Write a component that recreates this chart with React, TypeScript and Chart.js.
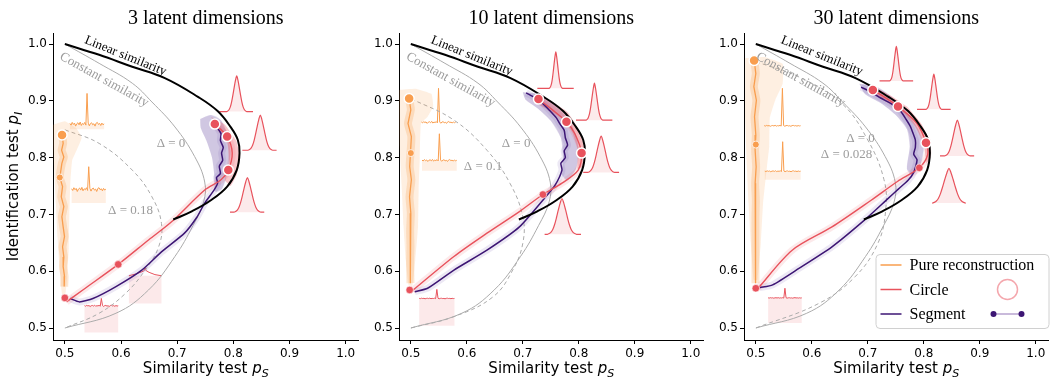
import React, { useEffect, useRef } from 'react';
import { Chart, registerables } from 'chart.js';
Chart.register(...registerables);

type P = [number, number];

// ---------- text ----------
const TITLES = ['3 latent dimensions', '10 latent dimensions', '30 latent dimensions'];
const X_LABEL = ['Similarity test ', 'p', 'S'];
const Y_LABEL = ['Identification test ', 'p', 'I'];
const LEGEND_LABELS = ['Pure reconstruction', 'Circle', 'Segment'];
const DELTA_LABELS = ['Δ = 0.18', 'Δ = 0.1', 'Δ = 0.028'];
const CURVE_LABELS = ['Linear similarity', 'Constant similarity', 'Δ = 0'];
const X_TICKS = [0.5, 0.6, 0.7, 0.8, 0.9, 1.0];
const Y_TICKS = [0.5, 0.6, 0.7, 0.8, 0.9, 1.0];

// ---------- shared reference curves ----------
const LINEAR_SIM: P[] = [[0.500, 1.000], [0.561, 0.981], [0.620, 0.960], [0.678, 0.940], [0.737, 0.907], [0.772, 0.882], [0.795, 0.854], [0.808, 0.831], [0.811, 0.808], [0.806, 0.778], [0.789, 0.749], [0.760, 0.725], [0.725, 0.705], [0.693, 0.691]];
const CONSTANT_SIM: P[] = [[0.500, 1.000], [0.561, 0.966], [0.620, 0.931], [0.655, 0.898], [0.696, 0.854], [0.731, 0.802], [0.749, 0.757], [0.747, 0.722], [0.728, 0.680], [0.696, 0.626], [0.649, 0.567], [0.591, 0.526], [0.500, 0.500]];

// ---------- 3 latent dimensions ----------
const DASHED_3: P[] = [[0.500, 0.849], [0.561, 0.825], [0.620, 0.778], [0.655, 0.731], [0.672, 0.684], [0.667, 0.643], [0.643, 0.602], [0.608, 0.561], [0.561, 0.526], [0.500, 0.500]];
const ORANGE_3: P[] = [[0.4953, 0.840], [0.497, 0.825], [0.4942, 0.813], [0.4982, 0.801], [0.4947, 0.790], [0.491, 0.765], [0.4959, 0.749], [0.4936, 0.731], [0.4982, 0.714], [0.4947, 0.696], [0.497, 0.678], [0.4994, 0.661], [0.4959, 0.643], [0.4982, 0.625], [0.497, 0.608], [0.4994, 0.591], [0.4988, 0.573]];
const CIRCLE_3: P[] = [[0.503, 0.546], [0.532, 0.567], [0.595, 0.612], [0.649, 0.655], [0.690, 0.687], [0.749, 0.743], [0.778, 0.761], [0.791, 0.778], [0.798, 0.808], [0.789, 0.837], [0.767, 0.859]];
const SEGMENT_3: P[] = [[0.509, 0.552], [0.526, 0.546], [0.550, 0.552], [0.591, 0.573], [0.637, 0.602], [0.672, 0.634], [0.713, 0.667], [0.735, 0.695], [0.749, 0.720], [0.765, 0.742], [0.772, 0.755], [0.770, 0.765], [0.777, 0.772], [0.775, 0.785], [0.781, 0.795], [0.779, 0.808], [0.782, 0.818], [0.777, 0.830], [0.778, 0.842], [0.772, 0.852], [0.768, 0.858], [0.760, 0.864]];
const ORANGE_MARKS_3: P[] = [[0.495, 0.840], [0.491, 0.765]];
const CIRCLE_MARKS_3: P[] = [[0.500, 0.553], [0.595, 0.612]];
const CIRCLE_RINGS_3: P[] = [[0.791, 0.778], [0.789, 0.837], [0.767, 0.859]];
const ORANGE_CLOUD_3: P[] = [[0.479, 0.858], [0.500, 0.864], [0.520, 0.852], [0.530, 0.835], [0.522, 0.815], [0.513, 0.795], [0.510, 0.760], [0.508, 0.700], [0.507, 0.640], [0.504, 0.590], [0.501, 0.560], [0.495, 0.560], [0.491, 0.600], [0.487, 0.660], [0.484, 0.720], [0.481, 0.780], [0.479, 0.820]];
const SEGMENT_CLOUD_3: P[] = [[0.741, 0.868], [0.760, 0.875], [0.778, 0.866], [0.790, 0.840], [0.795, 0.810], [0.790, 0.775], [0.780, 0.745], [0.768, 0.740], [0.766, 0.770], [0.762, 0.800], [0.752, 0.830], [0.742, 0.852]];
const CIRCLE_CLOUD_3: P[] = [[0.760, 0.872], [0.785, 0.858], [0.805, 0.830], [0.812, 0.800], [0.806, 0.770], [0.795, 0.750], [0.785, 0.760], [0.792, 0.790], [0.790, 0.825], [0.775, 0.850]];

// ---------- 10 latent dimensions ----------
const DASHED_10: P[] = [[0.500, 0.904], [0.577, 0.866], [0.636, 0.813], [0.677, 0.755], [0.700, 0.696], [0.700, 0.649], [0.682, 0.602], [0.647, 0.555], [0.577, 0.520], [0.500, 0.500]];
const ORANGE_10: P[] = [[0.497, 0.904], [0.500, 0.884], [0.495, 0.860], [0.501, 0.837], [0.4994, 0.808], [0.498, 0.784], [0.501, 0.761], [0.4977, 0.731], [0.500, 0.702], [0.4988, 0.672], [0.4994, 0.643], [0.4988, 0.614], [0.4994, 0.579]];
const CIRCLE_10: P[] = [[0.503, 0.566], [0.577, 0.626], [0.636, 0.667], [0.694, 0.705], [0.736, 0.735], [0.770, 0.755], [0.799, 0.778], [0.805, 0.808], [0.793, 0.842], [0.778, 0.863], [0.753, 0.884], [0.728, 0.903]];
const SEGMENT_10: P[] = [[0.507, 0.564], [0.530, 0.570], [0.577, 0.602], [0.636, 0.637], [0.694, 0.678], [0.741, 0.731], [0.758, 0.752], [0.770, 0.778], [0.768, 0.790], [0.776, 0.800], [0.774, 0.812], [0.780, 0.822], [0.776, 0.835], [0.774, 0.848], [0.766, 0.860], [0.760, 0.870], [0.747, 0.884], [0.735, 0.896], [0.723, 0.905], [0.706, 0.914]];
const ORANGE_MARKS_10: P[] = [[0.497, 0.904], [0.500, 0.808]];
const CIRCLE_MARKS_10: P[] = [[0.498, 0.567], [0.736, 0.735]];
const CIRCLE_RINGS_10: P[] = [[0.805, 0.808], [0.778, 0.863], [0.728, 0.903]];
const ORANGE_CLOUD_10: P[] = [[0.479, 0.919], [0.510, 0.921], [0.537, 0.912], [0.540, 0.890], [0.530, 0.872], [0.518, 0.860], [0.516, 0.800], [0.514, 0.743], [0.513, 0.680], [0.508, 0.620], [0.503, 0.575], [0.496, 0.575], [0.491, 0.620], [0.487, 0.680], [0.484, 0.743], [0.480, 0.820], [0.479, 0.880]];
const SEGMENT_CLOUD_10: P[] = [[0.700, 0.915], [0.725, 0.912], [0.755, 0.895], [0.780, 0.870], [0.795, 0.840], [0.800, 0.810], [0.795, 0.780], [0.780, 0.760], [0.770, 0.770], [0.772, 0.800], [0.768, 0.835], [0.750, 0.865], [0.725, 0.888], [0.705, 0.902]];
const CIRCLE_CLOUD_10: P[] = [[0.720, 0.912], [0.750, 0.900], [0.780, 0.880], [0.800, 0.850], [0.812, 0.815], [0.808, 0.785], [0.798, 0.780], [0.798, 0.815], [0.788, 0.845], [0.770, 0.868], [0.745, 0.885], [0.722, 0.897]];

// ---------- 30 latent dimensions ----------
const DASHED_30: P[] = [[0.500, 0.969], [0.577, 0.942], [0.653, 0.896], [0.700, 0.831], [0.729, 0.761], [0.732, 0.708], [0.718, 0.649], [0.677, 0.590], [0.612, 0.543], [0.500, 0.500]];
const ORANGE_30: P[] = [[0.497, 0.972], [0.500, 0.948], [0.4965, 0.925], [0.501, 0.901], [0.4977, 0.872], [0.500, 0.840], [0.4988, 0.813], [0.5006, 0.784], [0.4988, 0.755], [0.500, 0.725], [0.4994, 0.696], [0.4994, 0.661], [0.4994, 0.625], [0.4994, 0.579]];
const CIRCLE_30: P[] = [[0.504, 0.570], [0.565, 0.637], [0.636, 0.678], [0.706, 0.725], [0.753, 0.758], [0.792, 0.782], [0.807, 0.805], [0.804, 0.826], [0.788, 0.860], [0.754, 0.890], [0.729, 0.907], [0.709, 0.919]];
const SEGMENT_30: P[] = [[0.507, 0.571], [0.530, 0.576], [0.577, 0.605], [0.636, 0.643], [0.694, 0.690], [0.735, 0.727], [0.755, 0.745], [0.772, 0.760], [0.782, 0.774], [0.788, 0.796], [0.782, 0.806], [0.785, 0.818], [0.785, 0.831], [0.780, 0.845], [0.776, 0.855], [0.768, 0.868], [0.759, 0.881], [0.745, 0.893], [0.723, 0.905], [0.705, 0.916], [0.688, 0.924]];
const ORANGE_MARKS_30: P[] = [[0.497, 0.971], [0.500, 0.823]];
const CIRCLE_MARKS_30: P[] = [[0.500, 0.570], [0.792, 0.782]];
const CIRCLE_RINGS_30: P[] = [[0.804, 0.826], [0.754, 0.890], [0.709, 0.919]];
const ORANGE_CLOUD_30: P[] = [[0.481, 0.975], [0.515, 0.977], [0.548, 0.965], [0.548, 0.930], [0.535, 0.902], [0.525, 0.870], [0.524, 0.820], [0.520, 0.785], [0.513, 0.720], [0.509, 0.650], [0.503, 0.585], [0.496, 0.585], [0.491, 0.650], [0.487, 0.720], [0.484, 0.785], [0.481, 0.870], [0.481, 0.930]];
const SEGMENT_CLOUD_30: P[] = [[0.685, 0.930], [0.715, 0.925], [0.745, 0.905], [0.770, 0.880], [0.790, 0.850], [0.800, 0.820], [0.795, 0.790], [0.780, 0.770], [0.770, 0.780], [0.775, 0.820], [0.770, 0.850], [0.750, 0.875], [0.725, 0.895], [0.695, 0.912]];
const CIRCLE_CLOUD_30: P[] = [[0.705, 0.928], [0.740, 0.910], [0.770, 0.890], [0.795, 0.860], [0.810, 0.830], [0.812, 0.800], [0.805, 0.790], [0.800, 0.825], [0.785, 0.855], [0.765, 0.878], [0.740, 0.895], [0.710, 0.912]];

// ---------- inset shapes ----------
const GAUSS_PROFILE = [0, 0.02, 0.06, 0.14, 0.28, 0.47, 0.68, 0.87, 1, 0.87, 0.68, 0.47, 0.28, 0.14, 0.06, 0.02, 0];
const SPEC_NOISE = [0.2, -0.3, 0.5, -0.1, 0.3, -0.6, 0.1, 0.4, -0.2, 0.6, -0.4, 0.2, -0.1, 0.5, -0.3, 1, 0.3, -0.5, 0.2, 0.4, -0.2, 0.1, -0.6, 0.3, 0.5, -0.1, 0.2, -0.4, 0.3, -0.2, 0.1];
const TENT_PROFILE: P[] = [[0, 0], [0.2, 0.003], [0.4, 0.007], [0.47, 0.009], [0.5, 0.014], [0.53, 0.009], [0.62, 0.006], [0.8, 0.002], [1, 0]];

// inset placements: gaussian [xCenter, top, base, xLeft, xRight, halfWidth]
const GAUSS_3 = [[0.806, 0.944, 0.881, 0.775, 0.835, 0.018], [0.848, 0.875, 0.813, 0.816, 0.877, 0.022], [0.825, 0.765, 0.704, 0.794, 0.855, 0.024]];
const GAUSS_10 = [[0.759, 0.986, 0.922, 0.726, 0.791, 0.012], [0.828, 0.931, 0.866, 0.795, 0.860, 0.015], [0.840, 0.838, 0.774, 0.808, 0.872, 0.024], [0.770, 0.728, 0.665, 0.739, 0.804, 0.026]];
const GAUSS_30 = [[0.751, 0.996, 0.935, 0.721, 0.781, 0.012], [0.818, 0.947, 0.885, 0.788, 0.848, 0.014], [0.860, 0.866, 0.803, 0.829, 0.890, 0.023], [0.845, 0.781, 0.720, 0.815, 0.875, 0.030]];
// spectra [x0, x1, base, spikeTop, fillBottom (0 = none)]
const SPECTRA_3 = [[0.509, 0.570, 0.859, 0.913, 0.850], [0.512, 0.573, 0.744, 0.784, 0.720]];
const SPECTRA_10 = [[0.519, 0.580, 0.862, 0.922, 0], [0.520, 0.582, 0.795, 0.842, 0.777]];
const SPECTRA_30 = [[0.515, 0.580, 0.856, 0.922, 0], [0.516, 0.580, 0.776, 0.828, 0.761]];
const RED_SPECTRA_3 = [[0.535, 0.595, 0.539, 0.552, 0.492]];
const RED_SPECTRA_10 = [[0.515, 0.578, 0.552, 0.568, 0.504]];
const RED_SPECTRA_30 = [[0.522, 0.582, 0.553, 0.570, 0.509]];
const TENTS_3 = [[0.614, 0.672, 0.592, 0.543]];

// ---------- styles / layout ----------
const ORANGE = '#F99E4E';
const RED = '#E8525C';
const PURPLE = '#3D1674';
const GRAY = '#ABABAB';
const XMIN = 0.4789, XMAX = 1.0228, YMIN = 0.4789, YMAX = 1.0194;

const PANELS = [
  { i: 0, dashed: DASHED_3, orange: ORANGE_3, circle: CIRCLE_3, segment: SEGMENT_3, oMarks: ORANGE_MARKS_3, cMarks: CIRCLE_MARKS_3, cRings: CIRCLE_RINGS_3, oCloud: ORANGE_CLOUD_3, sCloud: SEGMENT_CLOUD_3, cCloud: CIRCLE_CLOUD_3, gauss: GAUSS_3, spectra: SPECTRA_3, red: RED_SPECTRA_3, tents: TENTS_3, amp: 0.006, redAmp: 0.002,
    left: 0, width: 365, yw: 53, pr: 2, lin: [0.608, 0.979], con: [0.570, 0.937], d0: [0.689, 0.824], dx: [0.617, 0.707] },
  { i: 1, dashed: DASHED_10, orange: ORANGE_10, circle: CIRCLE_10, segment: SEGMENT_10, oMarks: ORANGE_MARKS_10, cMarks: CIRCLE_MARKS_10, cRings: CIRCLE_RINGS_10, oCloud: ORANGE_CLOUD_10, sCloud: SEGMENT_CLOUD_10, cCloud: CIRCLE_CLOUD_10, gauss: GAUSS_10, spectra: SPECTRA_10, red: RED_SPECTRA_10, tents: [], amp: 0.003, redAmp: 0.001,
    left: 362, width: 348, yw: 37, pr: 1, lin: [0.609, 0.979], con: [0.571, 0.937], d0: [0.688, 0.824], dx: [0.629, 0.785] },
  { i: 2, dashed: DASHED_30, orange: ORANGE_30, circle: CIRCLE_30, segment: SEGMENT_30, oMarks: ORANGE_MARKS_30, cMarks: CIRCLE_MARKS_30, cRings: CIRCLE_RINGS_30, oCloud: ORANGE_CLOUD_30, sCloud: SEGMENT_CLOUD_30, cCloud: CIRCLE_CLOUD_30, gauss: GAUSS_30, spectra: SPECTRA_30, red: RED_SPECTRA_30, tents: [], amp: 0.0015, redAmp: 0.0008,
    left: 707, width: 348, yw: 37, pr: 1, lin: [0.618, 0.979], con: [0.580, 0.937], d0: [0.687, 0.834], dx: [0.662, 0.805] },
];

const pts = (a: P[]) => a.map(([x, y]) => ({ x, y }));
const closed = (a: P[]) => pts([...a, a[0]]);

function buildDatasets(p: any) {
  const ds: any[] = [];
  const add = (d: any) => ds.push({ showLine: true, pointRadius: 0, pointHoverRadius: 0, fill: false, tension: 0, ...d });
  const shape = (a: P[], color: string, tension = 0) => add({ data: closed(a), fill: 'shape', backgroundColor: color, borderColor: 'transparent', borderWidth: 0, tension });

  // insets
  p.gauss.forEach(([xc, top, base, xl, xr, w]: number[]) => {
    const n = GAUSS_PROFILE.length;
    const data = [{ x: xl, y: base }, ...GAUSS_PROFILE.map((v, k) => ({ x: xc - w + (2 * w * k) / (n - 1), y: base + v * (top - base) })), { x: xr, y: base }];
    add({ data, borderColor: RED, borderWidth: 1.2, fill: { value: base }, backgroundColor: 'rgba(232,82,92,0.12)', cubicInterpolationMode: 'monotone' });
  });
  const spec = ([x0, x1, base, top, bottom]: number[], color: string, fillColor: string, amp: number) => {
    if (bottom) shape([[x0, base], [x1, base], [x1, bottom], [x0, bottom]], fillColor);
    const n = SPEC_NOISE.length, mid = (n - 1) / 2;
    add({ data: SPEC_NOISE.map((v, k) => ({ x: x0 + ((x1 - x0) * k) / (n - 1), y: k === mid ? top : base + v * amp })), borderColor: color, borderWidth: 1 });
  };
  p.spectra.forEach((s: number[]) => spec(s, ORANGE, 'rgba(249,158,78,0.16)', p.amp));
  p.red.forEach((s: number[]) => spec(s, RED, 'rgba(232,82,92,0.13)', p.redAmp));
  p.tents.forEach(([x0, x1, base, bottom]: number[]) => {
    shape([[x0, base], [x1, base], [x1, bottom], [x0, bottom]], 'rgba(232,82,92,0.13)');
    add({ data: TENT_PROFILE.map(([t, v]) => ({ x: x0 + t * (x1 - x0), y: base + v })), borderColor: RED, borderWidth: 1 });
  });

  // reference curves
  add({ data: pts(CONSTANT_SIM), borderColor: GRAY, borderWidth: 1, tension: 0.4 });
  add({ data: pts(p.dashed), borderColor: GRAY, borderWidth: 1, borderDash: [4, 3], tension: 0.4 });

  // clouds
  shape(p.oCloud, 'rgba(249,158,78,0.17)', 0.1);
  shape(p.sCloud, 'rgba(100,70,160,0.16)', 0.1);
  shape(p.sCloud, 'rgba(80,40,140,0.14)', 0.35);
  shape(p.cCloud, 'rgba(232,82,92,0.32)', 0.1);

  // soft bands
  add({ data: pts(p.orange), borderColor: 'rgba(249,158,78,0.25)', borderWidth: 8, tension: 0.2 });
  add({ data: pts(p.segment), borderColor: 'rgba(110,80,170,0.13)', borderWidth: 7, tension: 0.2 });
  add({ data: pts(p.circle), borderColor: 'rgba(232,82,92,0.13)', borderWidth: 7, tension: 0.3 });

  // main lines
  add({ data: pts(p.orange), borderColor: ORANGE, borderWidth: 1.3 });
  add({ data: pts(p.segment), borderColor: PURPLE, borderWidth: 1.5, tension: 0.2 });
  add({ data: pts(p.circle), borderColor: RED, borderWidth: 1.4, tension: 0.3 });
  add({ data: pts(LINEAR_SIM), borderColor: '#000', borderWidth: 2, tension: 0.4 });

  // markers
  add({ data: pts(p.oMarks.slice(0, 1)), showLine: false, pointRadius: 5, pointBackgroundColor: ORANGE, pointBorderColor: '#fff', pointBorderWidth: 1.5 });
  add({ data: pts(p.oMarks.slice(1)), showLine: false, pointRadius: 3.5, pointBackgroundColor: ORANGE, pointBorderColor: '#fff', pointBorderWidth: 0.8 });
  add({ data: pts(p.cMarks), showLine: false, pointRadius: 3.8, pointBackgroundColor: RED, pointBorderColor: '#fff', pointBorderWidth: 0.6 });
  add({ data: pts(p.cRings), showLine: false, pointRadius: 5, pointBackgroundColor: RED, pointBorderColor: '#fff', pointBorderWidth: 1.5 });

  return ds.reverse(); // first dataset is drawn on top
}

function subLabel(ctx: CanvasRenderingContext2D, parts: string[], cx: number, base: number, size: number) {
  const f1 = `${size}px "DejaVu Sans"`, f2 = `italic ${size}px "DejaVu Sans"`, f3 = `italic ${Math.round(size * 0.7)}px "DejaVu Sans"`;
  ctx.font = f1; const w1 = ctx.measureText(parts[0]).width;
  ctx.font = f2; const w2 = ctx.measureText(parts[1]).width;
  ctx.font = f3; const w3 = ctx.measureText(parts[2]).width;
  let x = cx - (w1 + w2 + w3) / 2;
  ctx.textAlign = 'left'; ctx.textBaseline = 'alphabetic'; ctx.fillStyle = '#000';
  ctx.font = f1; ctx.fillText(parts[0], x, base); x += w1;
  ctx.font = f2; ctx.fillText(parts[1], x, base); x += w2;
  ctx.font = f3; ctx.fillText(parts[2], x, base + size * 0.25);
}

function decorPlugin(p: any) {
  return {
    id: 'decor',
    afterDatasetsDraw(chart: any) {
      const { ctx, scales: { x, y } } = chart;
      const txt = (s: string, pos: number[], ang: number, color: string, size: number) => {
        ctx.save();
        ctx.translate(x.getPixelForValue(pos[0]), y.getPixelForValue(pos[1]));
        ctx.rotate((ang * Math.PI) / 180);
        ctx.font = `${size}px "Liberation Serif"`;
        ctx.fillStyle = color; ctx.textAlign = 'center'; ctx.textBaseline = 'middle';
        ctx.fillText(s, 0, 0);
        ctx.restore();
      };
      txt(CURVE_LABELS[0], p.lin, 22, '#000', 13);
      txt(CURVE_LABELS[1], p.con, 29, '#9C9C9C', 13);
      txt(CURVE_LABELS[2], p.d0, 0, '#9C9C9C', 13);
      txt(DELTA_LABELS[p.i], p.dx, 0, '#9C9C9C', 13);
    },
    afterDraw(chart: any) {
      const { ctx, chartArea: ca } = chart;
      const cx = (ca.left + ca.right) / 2;
      ctx.save();
      ctx.font = '20px "Liberation Serif"'; ctx.fillStyle = '#000'; ctx.textAlign = 'center'; ctx.textBaseline = 'alphabetic';
      ctx.fillText(TITLES[p.i], cx, 24);
      subLabel(ctx, X_LABEL, cx, 373, 15);
      if (p.i === 0) {
        ctx.save();
        ctx.translate(13, (ca.top + ca.bottom) / 2);
        ctx.rotate(-Math.PI / 2);
        subLabel(ctx, Y_LABEL, 0, 5, 15);
        ctx.restore();
      }
      if (p.i === 2) {
        const bx = ca.right - 173, by = 254, bw = 174, bh = 74;
        ctx.beginPath();
        ctx.roundRect(bx + 0.5, by + 0.5, bw - 1, bh, 4);
        ctx.fillStyle = 'rgba(255,255,255,0.85)'; ctx.fill();
        ctx.strokeStyle = '#D0D0D0'; ctx.lineWidth = 1; ctx.stroke();
        const rows = [265, 289.5, 314];
        const cols = [ORANGE, RED, PURPLE];
        ctx.font = '16px "Liberation Serif"'; ctx.textAlign = 'left'; ctx.textBaseline = 'middle';
        rows.forEach((ry, k) => {
          ctx.beginPath(); ctx.moveTo(bx + 5, ry); ctx.lineTo(bx + 26, ry);
          ctx.strokeStyle = cols[k]; ctx.lineWidth = 1.5; ctx.stroke();
          ctx.fillStyle = '#000'; ctx.fillText(LEGEND_LABELS[k], bx + 34, ry + 1);
        });
        ctx.beginPath(); ctx.arc(bx + 132, rows[1], 10, 0, Math.PI * 2);
        ctx.strokeStyle = '#F4A7AD'; ctx.lineWidth = 1.5; ctx.stroke();
        ctx.beginPath(); ctx.moveTo(bx + 118, rows[2]); ctx.lineTo(bx + 146, rows[2]);
        ctx.strokeStyle = '#C9BADB'; ctx.lineWidth = 2; ctx.stroke();
        [bx + 118, bx + 146].forEach((dx) => { ctx.beginPath(); ctx.arc(dx, rows[2], 3, 0, Math.PI * 2); ctx.fillStyle = PURPLE; ctx.fill(); });
      }
      ctx.restore();
    },
  };
}

function Panel({ p }: { p: any }) {
  const ref = useRef<HTMLCanvasElement>(null);
  useEffect(() => {
    const axisCommon = {
      type: 'linear',
      grid: { display: true, drawOnChartArea: false, drawTicks: true, tickLength: 4, color: '#000', lineWidth: 1 },
      border: { display: true, color: '#000', width: 1 },
    };
    const chart = new Chart(ref.current as HTMLCanvasElement, {
      type: 'scatter',
      data: { datasets: buildDatasets(p) },
      options: {
        animation: false,
        responsive: false,
        maintainAspectRatio: false,
        events: [],
        layout: { padding: { top: 33, right: p.pr, left: 0, bottom: 0 } },
        plugins: { legend: { display: false }, tooltip: { enabled: false }, title: { display: false } },
        scales: {
          x: {
            ...axisCommon, min: XMIN, max: XMAX,
            afterFit: (s: any) => { s.height = 41; },
            afterBuildTicks: (s: any) => { s.ticks = X_TICKS.map((v) => ({ value: v })); },
            ticks: { padding: 3, color: '#000', font: { family: 'DejaVu Sans', size: 12 }, callback: (v: any) => Number(v).toFixed(1), maxRotation: 0 },
          },
          y: {
            ...axisCommon, min: YMIN, max: YMAX,
            afterFit: (s: any) => { s.width = p.yw; },
            afterBuildTicks: (s: any) => { s.ticks = Y_TICKS.map((v) => ({ value: v })); },
            ticks: { padding: 2, color: '#000', font: { family: 'DejaVu Sans', size: 12 }, callback: (v: any) => Number(v).toFixed(1) },
          },
        },
      } as any,
      plugins: [decorPlugin(p)],
    } as any);
    return () => chart.destroy();
  }, []);
  return <canvas ref={ref} width={p.width} height={381} style={{ position: 'absolute', left: p.left, top: 0, width: p.width, height: 381 }} />;
}

export default function App() {
  return (
    <div style={{ position: 'absolute', left: 0, top: 0, width: 1055, height: 381, background: '#fff', overflow: 'hidden' }}>
      {PANELS.map((p) => <Panel key={p.i} p={p} />)}
    </div>
  );
}
